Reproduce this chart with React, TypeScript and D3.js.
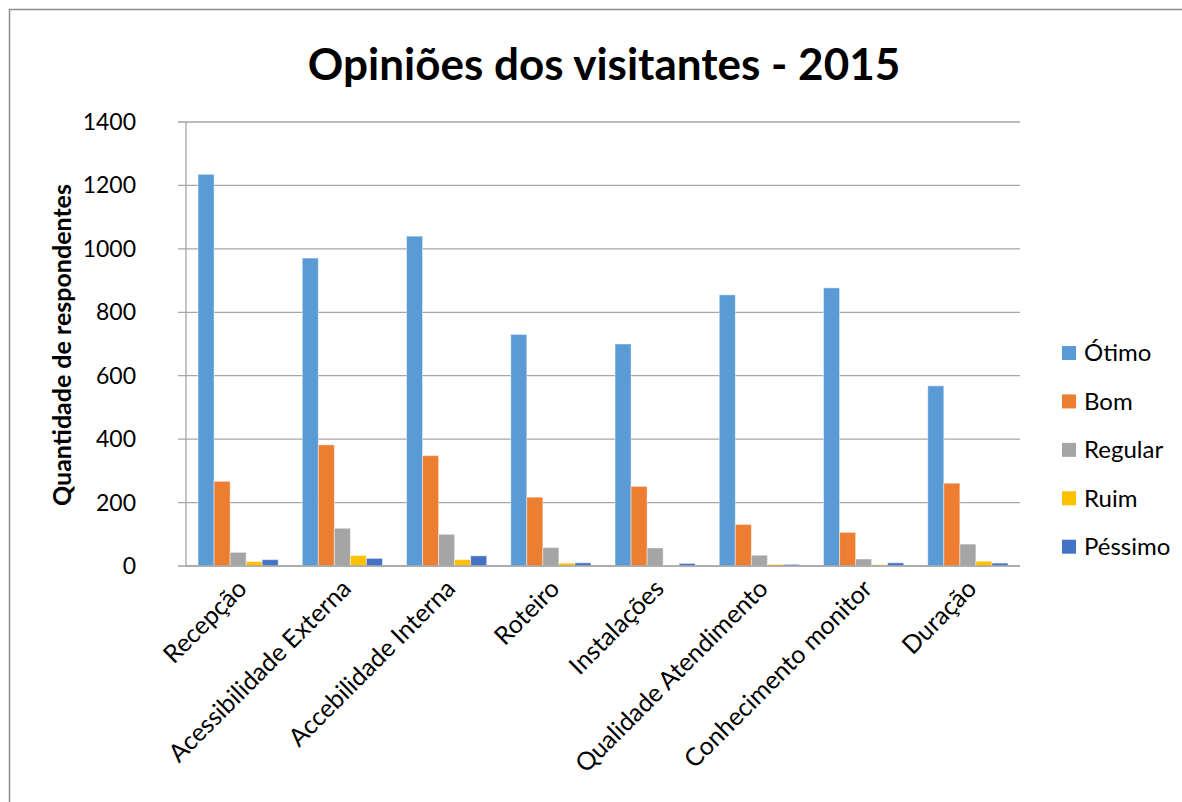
import * as d3 from "d3";

const categories = [
  "Recepção",
  "Acessibilidade Externa",
  "Accebilidade Interna",
  "Roteiro",
  "Instalações",
  "Qualidade Atendimento",
  "Conhecimento monitor",
  "Duração",
];

const seriesNames = ["Ótimo", "Bom", "Regular", "Ruim", "Péssimo"];
const seriesColors = ["#5B9BD5", "#ED7D31", "#A5A5A5", "#FFC000", "#4472C4"];

const otimo = [1235, 971, 1040, 730, 700, 855, 877, 568];
const bom = [267, 382, 348, 217, 251, 131, 106, 261];
const regular = [43, 119, 100, 58, 57, 34, 22, 69];
const ruim = [14, 33, 20, 9, 2, 5, 4, 15];
const pessimo = [20, 24, 32, 10, 8, 5, 10, 9];

const yTicks = [0, 200, 400, 600, 800, 1000, 1200, 1400];

const seriesValues = [otimo, bom, regular, ruim, pessimo];

const W = 1182;
const H = 802;
const left = 186;
const right = 1020;
const top = 122;
const bottom = 566;
const font = "Lato, 'Open Sans', sans-serif";

export default function App() {
  const x = d3.scaleBand().domain(categories).range([left, right]).padding(0);
  const bw = x.bandwidth();
  const barW = bw / 6.5;
  const x1 = d3
    .scaleBand()
    .domain(seriesNames)
    .range([barW * 0.75, bw - barW * 0.75])
    .padding(0);
  const y = d3.scaleLinear().domain([0, 1400]).range([bottom, top]);
  const legendY = d3
    .scalePoint()
    .domain(seriesNames)
    .range([353, 546.7]);

  return (
    <svg
      width={W}
      height={H}
      style={{ position: "absolute", left: 0, top: 0, background: "#fff" }}
      fontFamily={font}
    >
      <rect x={9.5} y={9.5} width={1300} height={1000} fill="#fff" stroke="#8c8c8c" strokeWidth={1.5} />

      <text x={604} y={80} textAnchor="middle" fontSize={44} fontWeight="bold" fill="#000">
        Opiniões dos visitantes - 2015
      </text>

      {/* grid + y axis */}
      {yTicks.map((t) => (
        <g key={t}>
          <line x1={left - 8} x2={right} y1={y(t)} y2={y(t)} stroke="#a6a6a6" strokeWidth={1.3} />
          <text x={136} y={y(t)} dy="0.35em" textAnchor="end" fontSize={23} fill="#000">
            {t}
          </text>
        </g>
      ))}
      <line x1={left} x2={left} y1={top} y2={bottom} stroke="#a6a6a6" strokeWidth={1.3} />

      <text
        transform={`translate(71, ${(top + bottom) / 2 + 1}) rotate(-90)`}
        textAnchor="middle"
        fontSize={25}
        fontWeight="bold"
        fill="#000"
      >
        Quantidade de respondentes
      </text>

      {/* bars */}
      {categories.map((c, i) => (
        <g key={c} transform={`translate(${x(c)},0)`}>
          {seriesNames.map((s, j) => {
            const v = seriesValues[j][i];
            return (
              <rect
                key={s}
                x={x1(s)}
                y={y(v)}
                width={x1.bandwidth()}
                height={y(0) - y(v)}
                fill={seriesColors[j]}
                stroke="#fff"
                strokeOpacity={0.45}
                strokeWidth={1}
              />
            );
          })}
        </g>
      ))}
      <line x1={left} x2={right} y1={bottom} y2={bottom} stroke="#a6a6a6" strokeWidth={1.5} />

      {/* x labels */}
      {categories.map((c) => (
        <text
          key={c}
          transform={`translate(${(x(c) as number) + bw / 2 + 4}, ${bottom + 18}) rotate(-45)`}
          textAnchor="end"
          dy="0.35em"
          fontSize={25}
          fill="#000"
        >
          {c}
        </text>
      ))}

      {/* legend */}
      {seriesNames.map((s, j) => (
        <g key={s} transform={`translate(1062, ${legendY(s)})`}>
          <rect x={0} y={-7} width={14} height={14} fill={seriesColors[j]} />
          <text x={22} dy="0.35em" fontSize={24} fill="#000">
            {s}
          </text>
        </g>
      ))}
    </svg>
  );
}
